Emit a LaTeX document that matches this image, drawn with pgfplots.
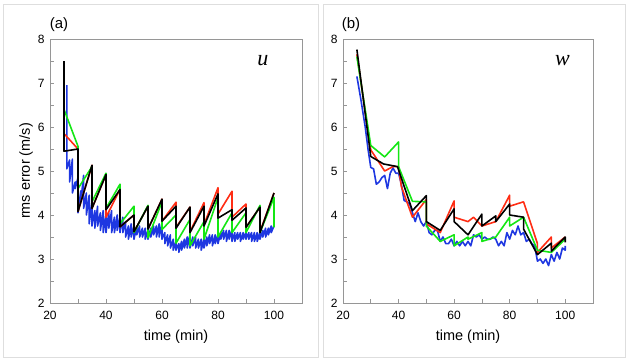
\documentclass[border=0pt]{standalone}
\usepackage{pgfplots}
\pgfplotsset{compat=1.18}
\usepackage{fontspec}
\setmainfont{Liberation Sans}
\newfontfamily\seriffont{Liberation Serif}
\definecolor{cred}{RGB}{255,45,20}
\definecolor{cgreen}{RGB}{20,230,20}
\definecolor{cblue}{RGB}{30,55,225}
\definecolor{frame}{RGB}{222,222,222}
\definecolor{axgray}{RGB}{150,150,150}
\pgfplotsset{
  myaxis/.style={
    scale only axis,
    width=252pt, height=264pt,
    xmin=20, xmax=110, ymin=2, ymax=8,
    xtick={20,40,60,80,100},
    minor xtick={30,50,70,90},
    ytick={2,3,4,5,6,7,8},
    minor ytick={2.5,3.5,4.5,5.5,6.5,7.5},
    tick align=inside,
    major tick length=4pt, minor tick length=4pt,
    axis line style={axgray, line width=0.8pt},
    every tick/.style={axgray, line width=0.6pt},
    xtick pos=bottom, ytick pos=left,
    tick label style={font=\fontsize{12}{14}\selectfont},
    xticklabel style={yshift=-5pt},
    yticklabel style={xshift=-2pt},
    label style={font=\fontsize{14.5}{17}\selectfont},
    /pgf/number format/assume math mode=true,
    xlabel={time (min)},
    xlabel style={yshift=-3pt},
    clip=true,
    every axis plot/.append style={line width=1.6pt, line join=round, mark=none},
  }
}
\begin{document}
\begin{tikzpicture}
\useasboundingbox (0pt,0pt) rectangle (628pt,359pt);
\draw[frame, line width=0.8pt] (3pt,2pt) rectangle (318pt,355pt);
\draw[frame, line width=0.8pt] (323pt,2pt) rectangle (625pt,355pt);
% ---------------- panel (a)
\begin{axis}[myaxis, at={(50pt,56pt)}, anchor=south west,
  ylabel={rms error (m/s)}, ylabel style={yshift=-2pt}]
\addplot[cblue] coordinates {
(26,6.95)(26,5.05)(27,5.25)(27,4.75)(28,5.27)(28,4.5)(29,4.75)(29,4.6)(30,4.85)(30,4.05)
(31,4.55)(31,4.3)(32,4.9)(32,4.15)(33,4.5)(33,4.0)(34,4.45)(34,3.8)(35,4.3)(35,3.75)
(36,4.1)(36,3.7)(37,4.2)(37,3.75)(38,4.05)(38,3.65)(39,4.1)(39,3.6)(40,4.0)(40,3.6)
(41,4.05)(41,3.7)(42,4.1)(42,3.6)(43,3.95)(43,3.6)(44,4.0)(44,3.65)(45,3.95)(45,3.6)
(46,3.95)(46,3.6)(47,3.85)(47,3.5)(48,3.75)(48,3.45)(49,3.8)(49,3.5)(50,3.75)(50,3.45)
(51,3.75)(51,3.55)(52,3.75)(52,3.5)(53,3.7)(53,3.5)(54,3.7)(54,3.45)(55,3.65)(55,3.45)
(56,3.7)(56,3.5)(57,3.75)(57,3.55)(58,3.75)(58,3.5)(59,3.8)(59,3.5)(60,3.8)(60,3.45)
(61,3.6)(61,3.35)(62,3.55)(62,3.3)(63,3.55)(63,3.25)(64,3.45)(64,3.2)(65,3.4)(65,3.2)
(66,3.35)(66,3.15)(67,3.4)(67,3.2)(68,3.45)(68,3.25)(69,3.5)(69,3.25)(70,3.55)(70,3.25)
(71,3.5)(71,3.3)(72,3.5)(72,3.25)(73,3.45)(73,3.25)(74,3.45)(74,3.2)(75,3.45)(75,3.25)
(76,3.5)(76,3.3)(77,3.55)(77,3.35)(78,3.55)(78,3.3)(79,3.55)(79,3.35)(80,3.55)(80,3.35)
(81,3.6)(81,3.45)(82,3.65)(82,3.45)(83,3.65)(83,3.4)(84,3.65)(84,3.45)(85,3.65)(85,3.4)
(86,3.6)(86,3.4)(87,3.6)(87,3.45)(88,3.6)(88,3.4)(89,3.6)(89,3.45)(90,3.6)(90,3.45)
(91,3.6)(91,3.45)(92,3.6)(92,3.4)(93,3.6)(93,3.4)(94,3.6)(94,3.4)(95,3.6)(95,3.45)
(96,3.65)(96,3.5)(97,3.7)(97,3.5)(98,3.7)(98,3.55)(99,3.75)(99,3.6)(100,3.75)
};
\addplot[cred] coordinates {
(25,7.5)(25,5.85)(30,5.5)(30,4.08)(35,5.13)(35,4.15)(40,4.92)(40,3.95)(45,4.58)(45,3.73)
(50,4.0)(50,3.62)(55,4.2)(55,3.68)(60,4.36)(60,3.86)(65,4.29)(65,3.72)(70,4.18)(70,3.62)
(75,4.28)(75,3.78)(80,4.62)(80,4.02)(85,4.54)(85,3.95)(90,4.25)(90,3.72)(95,4.18)(95,3.62)(100,4.5)
};
\addplot[cgreen] coordinates {
(25,7.5)(25,6.4)(30,5.56)(30,4.6)(35,5.1)(35,4.3)(40,4.95)(40,4.15)(45,4.7)(45,3.8)
(50,4.2)(50,3.6)(55,4.22)(55,3.48)(60,4.3)(60,3.67)(65,4.0)(65,3.36)(70,3.9)(70,3.3)
(75,3.85)(75,3.45)(80,4.4)(80,3.5)(85,4.05)(85,3.6)(90,4.05)(90,3.6)(95,4.22)(95,3.6)(100,4.4)(100,3.72)
};
\addplot[black] coordinates {
(25,7.5)(25,5.45)(30,5.5)(30,4.08)(35,5.13)(35,4.15)(40,4.92)(40,4.12)(45,4.58)(45,3.73)
(50,4.0)(50,3.62)(55,4.2)(55,3.68)(60,4.36)(60,3.86)(65,4.2)(65,3.7)(70,4.18)(70,3.6)
(75,4.2)(75,3.75)(80,4.48)(80,3.93)(85,4.12)(85,3.88)(90,4.16)(90,3.72)(95,4.18)(95,3.6)(100,4.5)
};
\node[anchor=center, font=\seriffont\itshape\fontsize{22}{24}\selectfont] at (axis cs:96,7.5) {u};
\end{axis}
\node[font=\fontsize{15}{18}\selectfont] at (59pt,334pt) {(a)};
% ---------------- panel (b)
\begin{axis}[myaxis, at={(343pt,56pt)}, anchor=south west, width=250pt]
\addplot[cblue] coordinates {
(25,7.15)(26.5,6.6)(28,6.0)(29,5.5)(30,5.08)(31,5.05)(32,4.7)(33,4.75)(34,4.85)(35,4.9)
(36,4.6)(37,4.95)(38,5.07)(39,4.95)(40,4.95)(41,4.7)(42,4.33)(43,4.3)(44,4.25)(45,4.05)
(46,3.85)(47,4.05)(48,3.85)(49,3.75)(50,3.85)(51,3.6)(52,3.55)(53,3.65)(54,3.65)(55,3.4)
(56,3.5)(57,3.35)(58,3.35)(59,3.45)(60,3.3)(61,3.4)(62,3.3)(63,3.4)(64,3.3)(65,3.4)
(66,3.3)(67,3.55)(68,3.5)(69,3.55)(70,3.45)(71,3.5)(72,3.45)(73,3.45)(74,3.5)(75,3.45)
(76,3.3)(77,3.4)(78,3.3)(79,3.6)(80,3.45)(81,3.65)(82,3.55)(83,3.75)(84,3.55)(85,3.6)
(86,3.4)(87,3.45)(88,3.35)(89,3.3)(90,2.95)(91,3.0)(92,2.9)(93,3.0)(94,2.85)(95,3.1)
(96,2.95)(97,3.15)(98,3.0)(99,3.25)(100,3.2)(100,3.3)
};
\addplot[cred] coordinates {
(25,7.65)(30,5.48)(35,5.0)(38,5.1)(40,5.1)(41,4.65)(45,3.95)(50,4.35)(50,3.8)(55,3.6)
(60,4.32)(60,3.95)(65,3.85)(67,3.95)(70,3.75)(75,3.85)(80,4.45)(80,4.2)(85,4.3)(90,3.35)
(90,3.15)(95,3.5)(95,3.25)(100,3.5)
};
\addplot[cgreen] coordinates {
(25,7.6)(30,5.58)(35,5.32)(40,5.66)(40,5.1)(45,4.31)(50,4.3)(50,3.75)(55,3.4)(60,3.55)
(60,3.3)(65,3.5)(65,3.45)(70,3.6)(70,3.4)(75,3.5)(80,3.95)(80,3.75)(85,3.95)(90,3.2)
(95,3.15)(100,3.45)
};
\addplot[black] coordinates {
(25,7.76)(30,5.33)(34.6,5.16)(39.6,5.1)(45,4.1)(50,4.44)(50,3.85)(55,3.65)(60,4.14)(60,3.85)
(65,3.55)(70,4.02)(70,3.75)(75,3.98)(75,3.85)(80,4.25)(80,4.0)(85,3.95)(85,3.68)(90,3.1)
(95,3.36)(95,3.18)(100,3.5)(100,3.38)
};
\node[anchor=center, font=\seriffont\itshape\fontsize{22}{24}\selectfont] at (axis cs:99,7.5) {w};
\end{axis}
\node[font=\fontsize{15}{18}\selectfont] at (351pt,334pt) {(b)};
\end{tikzpicture}
\end{document}
